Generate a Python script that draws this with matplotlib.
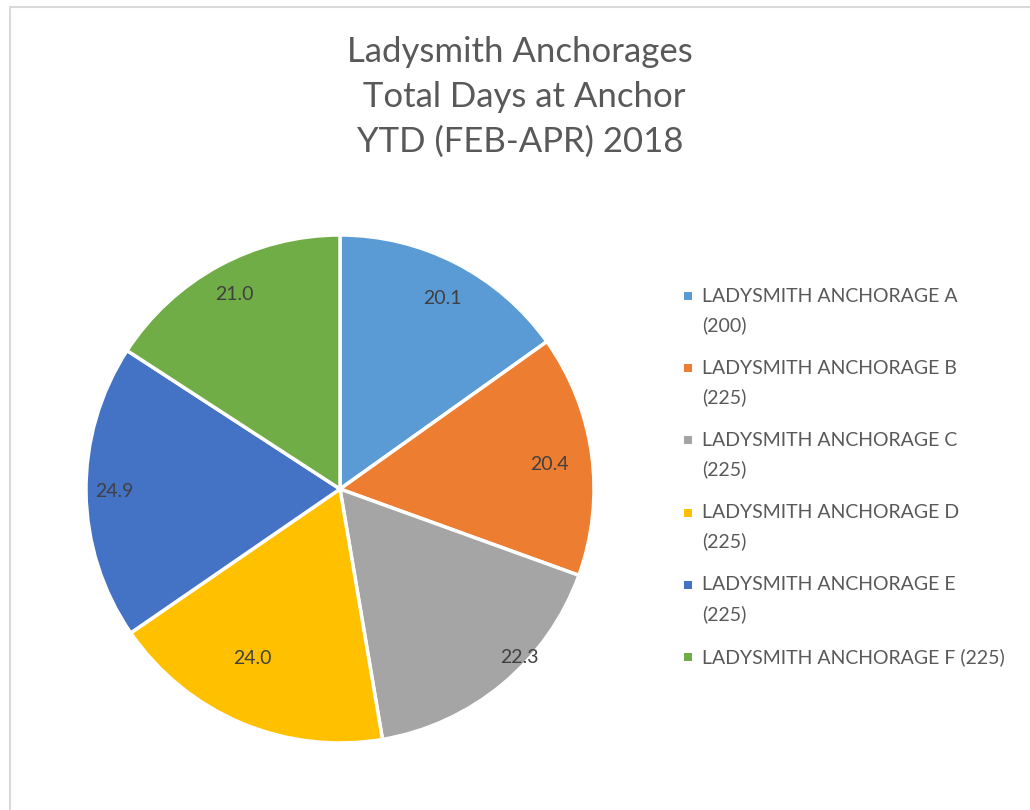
import matplotlib
matplotlib.use('Agg')
import matplotlib.pyplot as plt
from matplotlib.patches import Rectangle
import numpy as np

plt.rcParams['font.family'] = ['Lato', 'DejaVu Sans']

# chart data
names = ['LADYSMITH ANCHORAGE A', 'LADYSMITH ANCHORAGE B', 'LADYSMITH ANCHORAGE C',
         'LADYSMITH ANCHORAGE D', 'LADYSMITH ANCHORAGE E', 'LADYSMITH ANCHORAGE F']
capacity = [200, 225, 225, 225, 225, 225]
days = [20.1, 20.4, 22.3, 24.0, 24.9, 21.0]
colors = ['#5B9BD5', '#ED7D31', '#A5A5A5', '#FFC000', '#4472C4', '#70AD47']
title_lines = ['Ladysmith Anchorages', ' Total Days at Anchor', 'YTD (FEB-APR) 2018']
# how far out each data label sits (fraction of radius)
label_dist = [0.85, 0.83, 0.97, 0.75, 0.89, 0.87]
label_shift = [-1, -1, 7, -4.5, 0, 0]  # angular nudge in degrees (best fit)

W, H = 1030, 810
fig = plt.figure(figsize=(W / 100, H / 100), dpi=100)

# chart area border
fig.patches.append(Rectangle((10 / W, -0.1), 1.2, (H - 7) / H + 0.1,
                             transform=fig.transFigure, fill=False,
                             edgecolor='#D9D9D9', lw=1.5))

# pie axes
cx, cy, r = 340, 489, 254
ax = fig.add_axes([(cx - r) / W, (H - cy - r) / H, 2 * r / W, 2 * r / H])
wedges, _ = ax.pie(days, colors=colors, startangle=90, counterclock=False,
                   radius=1, wedgeprops=dict(edgecolor='white', linewidth=2.5))
ax.set_xlim(-1, 1)
ax.set_ylim(-1, 1)
ax.set_aspect('equal')
ax.axis('off')

for w, v, d, s in zip(wedges, days, label_dist, label_shift):
    mid = np.deg2rad((w.theta1 + w.theta2) / 2 + s)
    ax.text(d * np.cos(mid), d * np.sin(mid), f'{v:.1f}', ha='center', va='center',
            fontsize=14, color='#404040')

# title, one line at a time
for i, line in enumerate(title_lines):
    fig.text(520 / W, 1 - (52 + i * 45) / H, line, ha='center', va='center',
             fontsize=25, color='#595959')

# legend (drawn by hand so the marker sits at the first line)
for i, (n, c, col) in enumerate(zip(names, capacity, colors)):
    y = 296 + i * 72.2
    fig.patches.append(Rectangle((684 / W, 1 - (y + 4) / H), 8 / W, 8 / H,
                                 transform=fig.transFigure, facecolor=col,
                                 edgecolor='none'))
    if i < len(names) - 1:
        rows = [n, f'({c})']
    else:
        rows = [f'{n} ({c})']
    for j, row in enumerate(rows):
        fig.text(702 / W, 1 - (y + j * 29) / H, row, ha='left', va='center',
                 fontsize=14, color='#595959')

fig.savefig('out.png', dpi=100)
